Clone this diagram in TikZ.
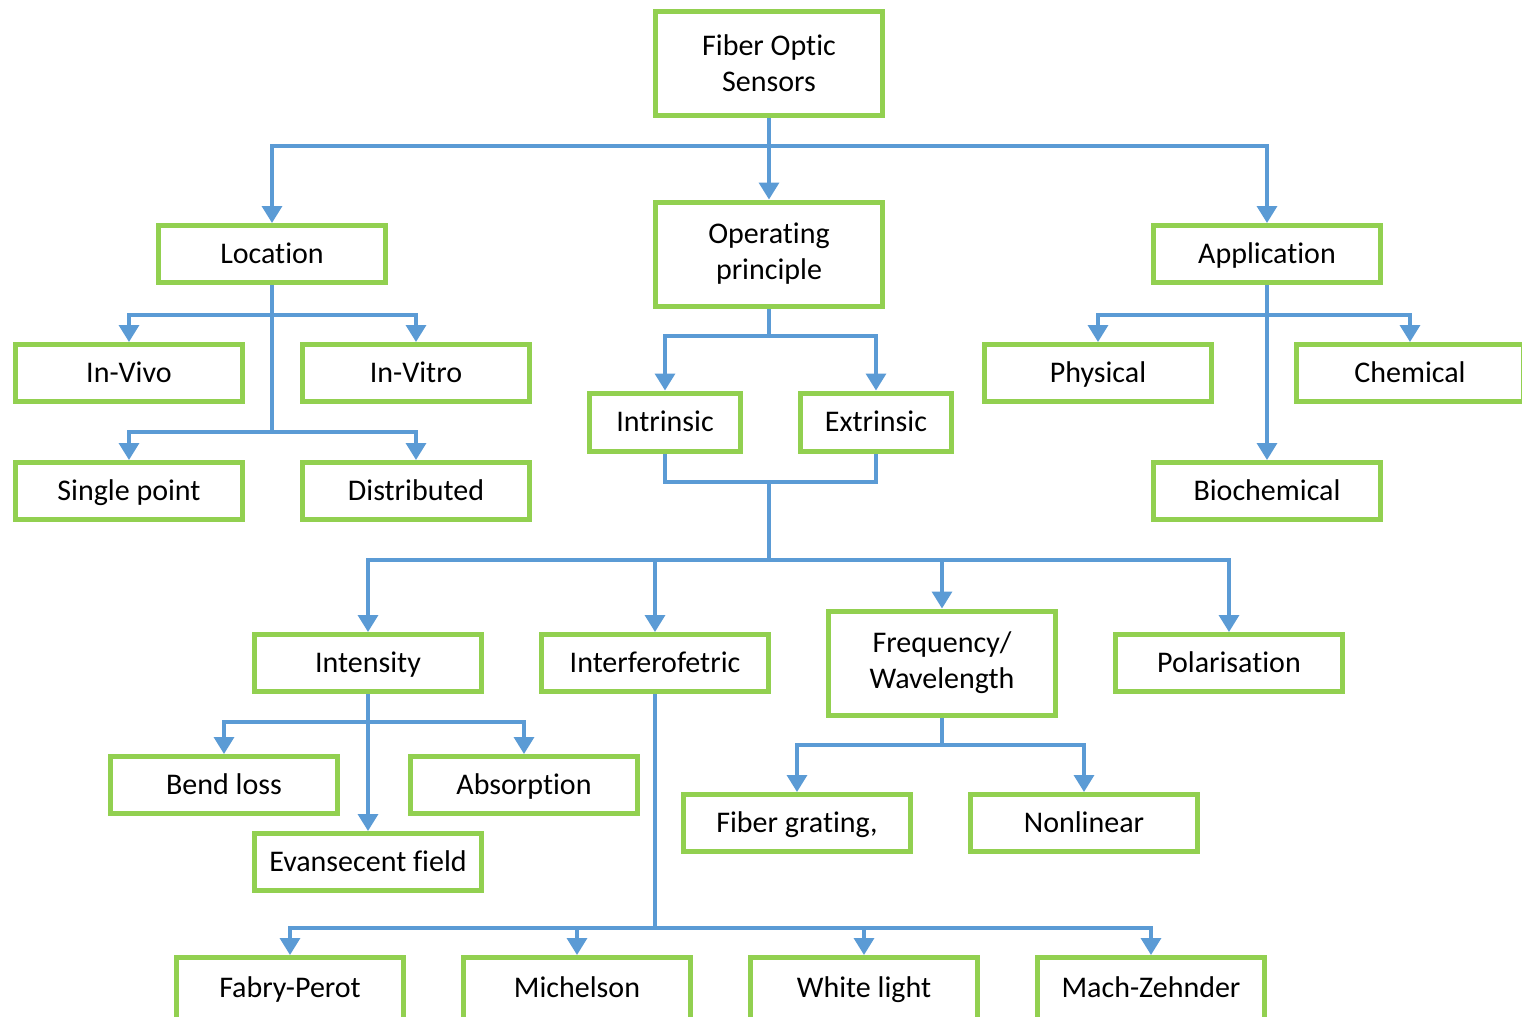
\documentclass[tikz,border=0pt]{standalone}
\usepackage{fontspec}
\setmainfont{Carlito}[Ligatures=NoCommon]
\usetikzlibrary{arrows.meta}
\definecolor{gr}{RGB}{146,208,80}
\definecolor{bl}{RGB}{91,155,213}
\begin{document}
\begin{tikzpicture}[x=0.5pt,y=-0.5pt,
 box/.style={draw=gr,line width=2.5pt,fill=white,minimum width=113.5pt,minimum height=28.5pt,inner sep=0pt,text height=12.5pt,text depth=2.8pt,font=\fontsize{15}{18}\selectfont,align=center},
 tall/.style={box,minimum height=52pt,text height={},text depth={}},
 small/.style={box,minimum width=75.5pt,minimum height=29pt},
 bot/.style={box,minimum height=36pt,text depth=8.8pt},
 ln/.style={draw=bl,line width=1.7pt},
 ar/.style={ln,-{Triangle[width=10pt,length=8.5pt]}}]
\clip (0,0) rectangle (1522,1017);
\fill[white] (0,0) rectangle (1522,1017);
% nodes
\node[tall] (root) at (769,63) {Fiber Optic\\Sensors};
\node[box] (loc) at (272,254) {Location};
\node[tall] (op) at (769,254) {Operating\\principle};
\node[box] (app) at (1267,254) {Application};
\node[box] (invivo) at (129,373) {In-Vivo};
\node[box] (invitro) at (416,373) {In-Vitro};
\node[box] (single) at (129,491) {Single point};
\node[box] (dist) at (416,491) {Distributed};
\node[box] (phys) at (1098,373) {Physical};
\node[box] (chem) at (1410,373) {Chemical};
\node[box] (bio) at (1267,491) {Biochemical};
\node[small] (intr) at (665,422) {Intrinsic};
\node[small] (extr) at (876,422) {Extrinsic};
\node[box] (inten) at (368,663) {Intensity};
\node[box] (interf) at (655,663) {Interferofetric};
\node[tall] (freq) at (942,663) {Frequency/\\Wavelength};
\node[box] (pol) at (1229,663) {Polarisation};
\node[box] (bend) at (224,785) {Bend loss};
\node[box] (abs) at (524,785) {Absorption};
\node[box] (evan) at (368,862) {Evansecent field};
\node[box] (grat) at (797,823) {Fiber grating,};
\node[box] (nonlin) at (1084,823) {Nonlinear};
\node[bot] (fabry) at (290,993.5) {Fabry-Perot};
\node[bot] (mich) at (577,993.5) {Michelson};
\node[bot] (white) at (864,993.5) {White light};
\node[bot] (mach) at (1151,993.5) {Mach-Zehnder};
% junctions
\coordinate (j1) at (769,146);
\coordinate (l1) at (272,315);
\coordinate (l2) at (272,432);
\coordinate (a1) at (1267,315);
\coordinate (o1) at (769,336);
\coordinate (o2) at (769,482);
\coordinate (o3) at (769,560);
\coordinate (i1) at (368,722);
\coordinate (f1) at (942,745);
\coordinate (n1) at (655,928);
% connectors
\draw[ar] (root.south) -- (op.north);
\draw[ar] (j1) -| (loc.north);
\draw[ar] (j1) -| (app.north);
\draw[ln] (loc.south) -- (l2);
\draw[ar] (l1) -| (invivo.north);
\draw[ar] (l1) -| (invitro.north);
\draw[ar] (l2) -| (single.north);
\draw[ar] (l2) -| (dist.north);
\draw[ar] (app.south) -- (bio.north);
\draw[ar] (a1) -| (phys.north);
\draw[ar] (a1) -| (chem.north);
\draw[ln] (op.south) -- (o1);
\draw[ar] (o1) -| (intr.north);
\draw[ar] (o1) -| (extr.north);
\draw[ln] (intr.south) |- (o2) -| (extr.south);
\draw[ln] (o2) -- (o3);
\draw[ar] (o3) -| (inten.north);
\draw[ar] (o3) -| (interf.north);
\draw[ar] (o3) -| (freq.north);
\draw[ar] (o3) -| (pol.north);
\draw[ar] (inten.south) -- (evan.north);
\draw[ar] (i1) -| (bend.north);
\draw[ar] (i1) -| (abs.north);
\draw[ln] (freq.south) -- (f1);
\draw[ar] (f1) -| (grat.north);
\draw[ar] (f1) -| (nonlin.north);
\draw[ln] (interf.south) -- (n1);
\draw[ar] (n1) -| (fabry.north);
\draw[ar] (n1) -| (mich.north);
\draw[ar] (n1) -| (white.north);
\draw[ar] (n1) -| (mach.north);
\end{tikzpicture}
\end{document}
